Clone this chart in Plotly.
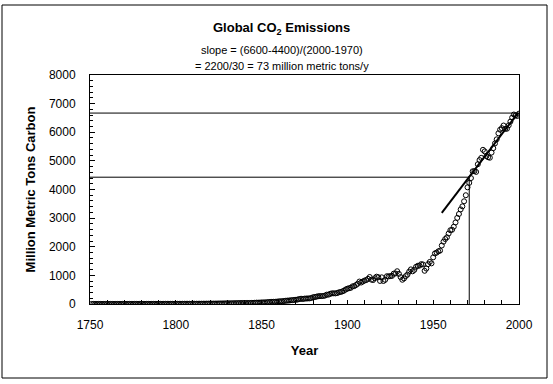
import plotly.graph_objects as go

years = list(range(1751, 2001))
emissions = [
    3, 3, 3, 3, 3, 3, 3, 3, 3, 3,
    3, 3, 3, 3, 3, 3, 4, 4, 4, 4,
    4, 4, 4, 4, 4, 4, 4, 4, 4, 4,
    5, 5, 5, 5, 5, 5, 5, 5, 5, 5,
    6, 6, 6, 7, 7, 7, 7, 7, 7, 8,
    8, 8, 8, 9, 9, 9, 9, 9, 9, 10,
    10, 10, 10, 11, 11, 12, 12, 13, 13, 14,
    14, 14, 15, 16, 17, 18, 18, 20, 21, 24,
    23, 24, 25, 27, 28, 31, 32, 33, 34, 33,
    34, 35, 36, 38, 41, 43, 48, 48, 49, 54,
    54, 57, 59, 69, 71, 76, 77, 78, 83, 91,
    95, 97, 104, 112, 119, 122, 130, 135, 142, 147,
    156, 173, 184, 174, 188, 191, 194, 196, 210, 236,
    243, 256, 272, 275, 277, 281, 295, 327, 327, 356,
    372, 374, 370, 383, 406, 419, 440, 465, 507, 534,
    552, 566, 617, 624, 663, 707, 784, 750, 785, 819,
    836, 879, 943, 850, 838, 901, 955, 936, 806, 932,
    803, 845, 970, 963, 975, 983, 1062, 1065, 1145, 1053,
    940, 847, 893, 973, 1027, 1130, 1209, 1142, 1192, 1299,
    1334, 1342, 1391, 1383, 1160, 1238, 1392, 1469, 1419, 1630,
    1767, 1795, 1841, 1865, 2043, 2177, 2270, 2330, 2462, 2577,
    2594, 2700, 2848, 3008, 3145, 3305, 3411, 3588, 3800, 4076,
    4231, 4399, 4635, 4644, 4615, 4883, 5029, 5105, 5387, 5332,
    5168, 5127, 5110, 5290, 5444, 5610, 5753, 5964, 6089, 6144,
    6235, 6118, 6124, 6242, 6372, 6510, 6619, 6588, 6569, 6650,
]

trend_x = [1955, 1999.5]
trend_y = [3180, 6680]
upper_x = [1750, 2000]
upper_y = [6670, 6670]
lower_x = [1750, 1971, 1971]
lower_y = [4430, 4430, 0]

x_ticks = [1750, 1800, 1850, 1900, 1950, 2000]
y_ticks = [0, 1000, 2000, 3000, 4000, 5000, 6000, 7000, 8000]

FONT = "Arial, 'Liberation Sans', sans-serif"

fig = go.Figure()
fig.add_trace(go.Scatter(x=upper_x, y=upper_y, mode="lines",
                         line=dict(color="black", width=1), hoverinfo="skip"))
fig.add_trace(go.Scatter(x=lower_x, y=lower_y, mode="lines",
                         line=dict(color="black", width=1), hoverinfo="skip"))
fig.add_trace(go.Scatter(x=years, y=emissions, mode="markers",
                         marker=dict(symbol="circle-open", size=5,
                                     color="black", line=dict(width=1))))
fig.add_trace(go.Scatter(x=trend_x, y=trend_y, mode="lines",
                         line=dict(color="black", width=2), hoverinfo="skip"))

fig.update_layout(
    width=553, height=384,
    margin=dict(l=90, r=34, t=75, b=80),
    paper_bgcolor="white", plot_bgcolor="white",
    showlegend=False,
    font=dict(family=FONT, color="black", size=12),
    xaxis=dict(range=[1750, 2000], tickvals=x_ticks, ticks="inside", ticklen=4,
               tickcolor="black", showgrid=False, zeroline=False,
               showline=True, linecolor="black", linewidth=1, mirror=True,
               minor=dict(dtick=10, ticks="inside", ticklen=4, tickcolor="black", showgrid=False),
               ticklabelstandoff=10, tickfont=dict(size=12),
               title=dict(text="<b>Year</b>", font=dict(size=13), standoff=14)),
    yaxis=dict(range=[0, 8000], tickvals=y_ticks, ticks="inside", ticklen=5,
               tickcolor="black", showgrid=False, zeroline=False,
               showline=True, linecolor="black", linewidth=1, mirror=True,
               minor=dict(dtick=200, ticks="inside", ticklen=3, tickcolor="black", showgrid=False),
               ticklabelstandoff=11, tickfont=dict(size=12),
               title=dict(text="<b>Million Metric Tons Carbon</b>", font=dict(size=13), standoff=10)),
    annotations=[
        dict(text="<b>Global CO<sub>2</sub> Emissions</b>", xref="paper", yref="paper",
             x=0.4466, y=1.205, showarrow=False, font=dict(size=13), xanchor="center", yanchor="middle"),
        dict(text="slope = (6600-4400)/(2000-1970)", xref="paper", yref="paper",
             x=0.4466, y=1.109, showarrow=False, font=dict(size=11), xanchor="center", yanchor="middle"),
        dict(text="= 2200/30 = 73 million metric tons/y", xref="paper", yref="paper",
             x=0.4466, y=1.039, showarrow=False, font=dict(size=11), xanchor="center", yanchor="middle"),
    ],
    shapes=[
        dict(type="rect", xref="paper", yref="paper",
             x0=(2 - 90) / 429, x1=(547 - 90) / 429,
             y0=(304 - 378) / 229, y1=(304 - 5) / 229,
             line=dict(color="black", width=1), fillcolor="rgba(0,0,0,0)", layer="below"),
    ],
)

fig.write_html("out.html", config={"displayModeBar": False},
               post_script="document.body.style.margin='0';")
